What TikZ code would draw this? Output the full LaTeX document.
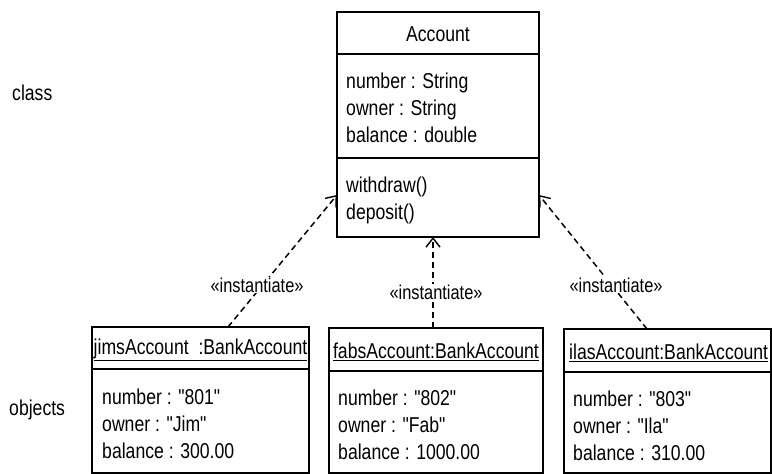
\documentclass[tikz,border=0pt]{standalone}
\usepackage{fontspec}
\setmainfont{Liberation Sans}[FakeStretch=0.82, Ligatures=TeXOff]
\usetikzlibrary{arrows.meta}
\newcommand{\dq}{\symbol{34}}
\tikzset{
  box/.style={draw, line width=1.4pt, inner sep=0pt},
  txt/.style={inner sep=0pt, align=left, anchor=west, font=\fontsize{21.5}{27}\selectfont},
  ttl/.style={inner sep=0pt, font=\fontsize{21.5}{27}\selectfont},
  lbl/.style={inner sep=1pt, fill=white, font=\fontsize{20}{24}\selectfont},
  dep/.style={line width=1.5pt, dash pattern=on 6pt off 4pt, -{Straight Barb[length=9pt,width=14pt,line width=1.4pt]}},
  sep/.style={line width=1.4pt}
}
\begin{document}
\begin{tikzpicture}[x=1pt,y=-1pt]
\useasboundingbox (0,0) rectangle (772,474);
% Account class
\node[box, minimum width=202pt, minimum height=225pt] (acc) at (438,124.5) {};
\draw[sep] (acc.west |- 0,54) coordinate (a1) -- (acc.east |- 0,54) coordinate (a2);
\draw[sep] (acc.west |- 0,158) coordinate (a3) -- (acc.east |- 0,158) coordinate (a4);
\node[ttl] (acct) at (438,34) {Account};
\node[txt] (acca) at (346,108) {number : String\\owner : String\\balance : double};
\node[txt] (acco) at (346,200) {withdraw()\\deposit()};
% objects
\node[box, minimum width=217pt, minimum height=146pt] (jim) at (200.5,400) {};
\draw[sep] (jim.west |- 0,369) -- (jim.east |- 0,369);
\node[ttl] (jimt) at (200.5,350) {\underline{jimsAccount\ \ :BankAccount}};
\node[txt] (jima) at (102,424) {number : \dq801\dq\\owner : \dq Jim\dq\\balance : 300.00};

\node[box, minimum width=214pt, minimum height=145pt] (fab) at (436,400.5) {};
\draw[sep] (fab.west |- 0,371) -- (fab.east |- 0,371);
\node[ttl] (fabt) at (436,352) {\underline{fabsAccount:BankAccount}};
\node[txt] (faba) at (338,425) {number : \dq802\dq\\owner : \dq Fab\dq\\balance : 1000.00};

\node[box, minimum width=207pt, minimum height=144pt] (ila) at (667.5,401) {};
\draw[sep] (ila.west |- 0,372) -- (ila.east |- 0,372);
\node[ttl, anchor=west] (ilat) at (569,353) {\underline{ilasAccount:BankAccount}};
\node[txt] (ilaa) at (573,426) {number : \dq803\dq\\owner : \dq Ila\dq\\balance : 310.00};
% side labels
\node[ttl, anchor=west] (cls) at (12,93) {class};
\node[ttl, anchor=west] (obj) at (9,410) {objects};
% dependencies
\coordinate (t1) at (228,327);
\coordinate (h1) at (337,195);
\coordinate (t2) at (433,328);
\coordinate (h2) at (433,237);
\coordinate (t3) at (647,329);
\coordinate (h3) at (539,195);
\draw[dep] (t1) -- (h1);
\draw[dep] (t2) -- (h2);
\draw[dep] (t3) -- (h3);
\node[lbl] (l1) at (257,285) {«instantiate»};
\node[lbl] (l2) at (436,292) {«instantiate»};
\node[lbl] (l3) at (616,285) {«instantiate»};
\end{tikzpicture}
\end{document}
